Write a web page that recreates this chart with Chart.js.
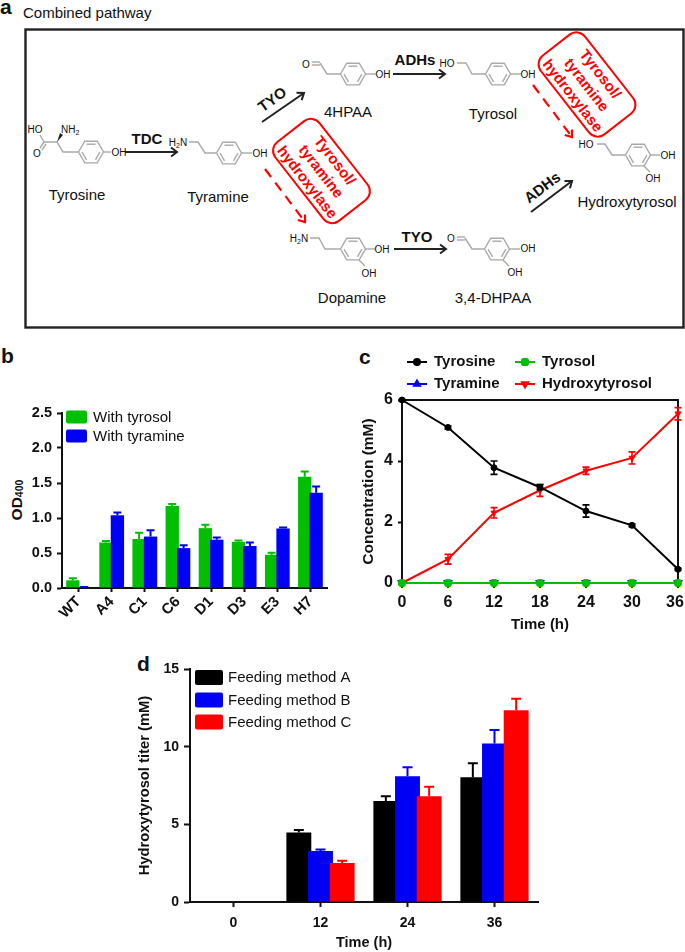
<!DOCTYPE html>
<html>
<head>
<meta charset="utf-8">
<title>Combined pathway</title>
<script src="https://cdn.jsdelivr.net/npm/chart.js@4/dist/chart.umd.js"></script>
<style>
html,body{margin:0;padding:0;background:#fff;overflow:hidden;width:685px;height:952px}
canvas{position:absolute;display:block}
svg{position:absolute;left:0;top:0}
text{font-family:"Liberation Sans",Arial,sans-serif;fill:#111}
</style>
</head>
<body>
<svg id="art" width="685" height="952" viewBox="0 0 685 952"></svg>
<canvas id="chartB" width="340" height="250" style="left:0;top:395px;width:340px;height:250px"></canvas>
<canvas id="chartC" width="345" height="290" style="left:345px;top:345px;width:345px;height:290px"></canvas>
<canvas id="chartD" width="430" height="305" style="left:120px;top:650px;width:430px;height:305px"></canvas>
<script>
/* ---------- panel b ---------- */
const strains = ['WT','A4','C1','C6','D1','D3','E3','H7'];
const odTyrosol = [0.11,0.65,0.70,1.17,0.855,0.66,0.475,1.59];
const odTyrosolErr = [0.03,0.02,0.09,0.03,0.05,0.02,0.03,0.075];
const odTyramine = [0.01,1.04,0.735,0.57,0.69,0.60,0.85,1.36];
const odTyramineErr = [0.005,0.04,0.09,0.04,0.03,0.05,0.015,0.09];
const odTicks = [0,0.5,1,1.5,2,2.5];

/* ---------- panel c ---------- */
const hours = [0,6,12,18,24,30,36];
const tyrosine = [6,5.1,3.78,3.14,2.36,1.89,0.45];
const tyrosineErr = [0.02,0.05,0.22,0.08,0.2,0.04,0.03];
const tyramine = [0,0,0,0,0,0,0];
const tyrosol = [0,0,0,0,0,0,0];
const hydroxytyrosol = [0,0.78,2.3,3.04,3.68,4.1,5.55];
const hydroxytyrosolErr = [0.01,0.16,0.17,0.2,0.12,0.2,0.2];

/* ---------- panel d ---------- */
const feedTimes = ['0','12','24','36'];
const feedA = [0,4.48,6.5,8.03];
const feedAErr = [0,0.15,0.3,0.9];
const feedB = [0,3.28,8.09,10.2];
const feedBErr = [0,0.1,0.58,0.88];
const feedC = [0,2.51,6.8,12.34];
const feedCErr = [0,0.15,0.62,0.75];

const GREEN = '#00bf00', BLUE = '#0000f5', RED = '#ff0000', BLACK = '#000000';
const FONT = '"Liberation Sans", Arial, sans-serif';

/* Error bars read from the dataset and placed with the chart's own scale */
function drawErrors(chart, meta) {
  const ds = chart.data.datasets[meta.index];
  if (!ds.errors) return;
  const y = chart.scales.y, ctx = chart.ctx;
  ctx.save();
  ctx.strokeStyle = ds.errColor || ds.backgroundColor;
  ctx.lineWidth = ds.errWidth || 2;
  meta.data.forEach((el, i) => {
    const e = ds.errors[i];
    if (!e) return;
    const v = ds.data[i], x = el.x, cap = ds.capHalf || 4;
    const hi = y.getPixelForValue(v + e), lo = ds.bothWays ? y.getPixelForValue(v - e) : y.getPixelForValue(v);
    ctx.beginPath();
    ctx.moveTo(x, lo); ctx.lineTo(x, hi);
    ctx.moveTo(x - cap, hi); ctx.lineTo(x + cap, hi);
    if (ds.bothWays) { ctx.moveTo(x - cap, lo); ctx.lineTo(x + cap, lo); }
    ctx.stroke();
  });
  ctx.restore();
}
const errorBars = {
  id: 'errorBars',
  afterDatasetDraw(chart, args) { drawErrors(chart, args.meta); },
  /* panels b and d overlap their bars, later series above earlier ones */
  beforeDatasetsDraw(chart, _a, o) {
    if (!o.leftFirst) return;
    chart.getSortedVisibleDatasetMetas().forEach(meta => {
      meta.controller.draw();
      drawErrors(chart, meta);
    });
    return false;
  }
};

/* In-plot legend for the bar panels: swatches and labels from the datasets */
const swatchLegend = {
  id: 'swatchLegend',
  afterDraw(chart, _a, o) {
    if (!o.rows) return;
    const ctx = chart.ctx;
    ctx.save();
    chart.data.datasets.forEach((ds, i) => {
      const y = o.rows[i];
      ctx.fillStyle = ds.backgroundColor;
      ctx.beginPath();
      ctx.roundRect(o.x, y - o.h / 2, o.w, o.h, 2);
      ctx.fill();
      ctx.fillStyle = '#111';
      ctx.font = o.font;
      ctx.textBaseline = 'middle';
      ctx.textAlign = 'left';
      ctx.fillText(ds.label, o.x + o.w + o.gap, y + 0.5);
    });
    ctx.restore();
  }
};

/* Line and marker legend for panel c */
const lineLegend = {
  id: 'lineLegend',
  afterDraw(chart, _a, o) {
    if (!o.items) return;
    const ctx = chart.ctx;
    ctx.save();
    chart.data.datasets.forEach((ds, i) => {
      const p = o.items[i];
      ctx.strokeStyle = ds.borderColor; ctx.lineWidth = 2;
      ctx.beginPath(); ctx.moveTo(p.x, p.y); ctx.lineTo(p.x + 20, p.y); ctx.stroke();
      ctx.fillStyle = ds.borderColor;
      Chart.helpers.drawPoint(ctx, {pointStyle: ds.pointStyle, radius: Math.min(ds.pointRadius, 3.5), rotation: p.rot || 0, borderWidth: 1}, p.x + 10, p.y);
      ctx.fillStyle = '#111'; ctx.font = o.font; ctx.textBaseline = 'middle'; ctx.textAlign = 'left';
      ctx.fillText(ds.label, p.x + 27, p.y);
    });
    ctx.restore();
  }
};

const boxFrame = {
  id: 'boxFrame',
  beforeDraw(chart, _a, o) {
    /* the last time label sits slightly inside the frame, as in the reference */
    if (o.on && !chart.$shifted) {
      const items = chart.scales.x.getLabelItems();
      items[items.length - 1].options.translation[0] -= 3;
      chart.$shifted = true;
    }
  },
  beforeDatasetsDraw(chart, _a, o) {
    if (!o.on) return;
    const a = chart.chartArea, ctx = chart.ctx;
    ctx.save(); ctx.strokeStyle = '#111'; ctx.lineWidth = 2;
    ctx.strokeRect(a.left, a.top, a.right - a.left, a.bottom - a.top);
    ctx.restore();
  }
};

Chart.register(boxFrame, errorBars, swatchLegend, lineLegend);
Chart.defaults.font.family = FONT;
Chart.defaults.color = '#111';
Chart.defaults.animation = false;
Chart.defaults.responsive = false;

const tickGrid = (len) => ({display:true, drawOnChartArea:false, drawTicks:true, tickLength:len, tickWidth:2, tickColor:'#111', offset:false});
const axisBorder = {display:true, color:'#111', width:2};
const fixW = (w) => (s) => { s.width = w; s.paddingTop = 0; s.paddingBottom = 0; };
const fixH = (h) => (s) => { s.height = h; s.paddingLeft = 0; s.paddingRight = 0; };

/* panel b */
new Chart(document.getElementById('chartB'), {
  type: 'bar',
  data: {
    labels: strains,
    datasets: [
      {label:'With tyrosol', data:odTyrosol, errors:odTyrosolErr, backgroundColor:GREEN, capHalf:4},
      {label:'With tyramine', data:odTyramine, errors:odTyramineErr, backgroundColor:BLUE, capHalf:4}
    ]
  },
  options: {
    layout:{padding:{left:0,right:13,top:18,bottom:0}},
    datasets:{bar:{categoryPercentage:0.69, barPercentage:1.167}},
    plugins:{
      legend:{display:false}, tooltip:{enabled:false},
      errorBars:{leftFirst:true},
      swatchLegend:{x:66,w:21,h:13,gap:6,rows:[22,41],font:'15px '+FONT}
    },
    scales:{
      x:{afterFit:fixH(57), grid:tickGrid(4), border:axisBorder,
         ticks:{minRotation:45,maxRotation:45,autoSkip:false,padding:1,color:'#111',font:{size:15,weight:'bold'}}},
      y:{min:0,max:2.5,afterFit:fixW(62), grid:tickGrid(5), border:axisBorder,
         afterBuildTicks:(s)=>{s.ticks=odTicks.map(v=>({value:v}));},
         ticks:{padding:5,color:'#111',font:{size:14.5,weight:'bold'},callback:(v)=>v.toFixed(1)}}
    }
  }
});

/* panel c */
new Chart(document.getElementById('chartC'), {
  type: 'line',
  data: {
    labels: hours,
    datasets: [
      {label:'Tyrosine', data:tyrosine, borderColor:BLACK, backgroundColor:BLACK, pointStyle:'circle', pointRadius:3, errors:tyrosineErr},
      {label:'Tyrosol', data:tyrosol, borderColor:GREEN, backgroundColor:GREEN, pointStyle:'rectRounded', pointRadius:4},
      {label:'Hydroxytyrosol', data:hydroxytyrosol, borderColor:RED, backgroundColor:RED, pointStyle:'triangle', pointRotation:180, pointRadius:3.5, errors:hydroxytyrosolErr},
      {label:'Tyramine', data:tyramine, borderColor:BLUE, backgroundColor:BLUE, pointStyle:'triangle', pointRotation:180, pointRadius:5}
    ].map(d=>Object.assign(d,{bothWays:true,capHalf:3.5,errWidth:1.6,borderWidth:2,tension:0,clip:false,pointBorderWidth:1}))
  },
  options: {
    layout:{padding:{left:0,right:12,top:55,bottom:0}},
    plugins:{
      legend:{display:false}, tooltip:{enabled:false},
      boxFrame:{on:true},
      lineLegend:{font:'bold 15px '+FONT, items:[{x:62,y:17},{x:170,y:17},{x:170,y:39,rot:180},{x:62,y:39}]}
    },
    scales:{
      x:{type:'linear',min:0,max:36,afterFit:fixH(52), grid:tickGrid(4), border:axisBorder,
         afterBuildTicks:(s)=>{s.ticks=hours.map(v=>({value:v}));},
         ticks:{padding:6,color:'#111',font:{size:16,weight:'bold'},maxRotation:0,autoSkip:false},
         title:{display:true,text:'Time (h)',color:'#111',font:{size:15,weight:'bold'},padding:{top:0,bottom:1}}},
      y:{min:0,max:6,afterFit:fixW(57), grid:tickGrid(4), border:axisBorder,
         ticks:{stepSize:2,padding:5,color:'#111',font:{size:16,weight:'bold'}},
         title:{display:true,text:'Concentration (mM)',color:'#111',font:{size:15.5,weight:'bold'},padding:{top:14,bottom:0}}}
    }
  }
});

/* panel d */
new Chart(document.getElementById('chartD'), {
  type: 'bar',
  data: {
    labels: feedTimes,
    datasets: [
      {label:'Feeding method A', data:feedA, errors:feedAErr, backgroundColor:BLACK, capHalf:5},
      {label:'Feeding method B', data:feedB, errors:feedBErr, backgroundColor:BLUE, capHalf:5},
      {label:'Feeding method C', data:feedC, errors:feedCErr, backgroundColor:RED, capHalf:5}
    ]
  },
  options: {
    layout:{padding:{left:0,right:12,top:19,bottom:0}},
    datasets:{bar:{categoryPercentage:0.747, barPercentage:1.15}},
    plugins:{
      legend:{display:false}, tooltip:{enabled:false},
      errorBars:{leftFirst:true},
      swatchLegend:{x:75,w:28,h:15,gap:5,rows:[27.5,50,72],font:'15px '+FONT}
    },
    scales:{
      x:{afterFit:fixH(53), grid:tickGrid(5), border:axisBorder,
         ticks:{padding:8,color:'#111',font:{size:14,weight:'bold'},maxRotation:0},
         title:{display:true,text:'Time (h)',color:'#111',font:{size:14.5,weight:'bold'},padding:{top:0,bottom:3}}},
      y:{min:0,max:15,afterFit:fixW(70), grid:tickGrid(6), border:axisBorder,
         ticks:{stepSize:5,padding:5,color:'#111',font:{size:14,weight:'bold'}},
         title:{display:true,text:'Hydroxytyrosol titer (mM)',color:'#111',font:{size:14.75,weight:'bold'},padding:{top:16,bottom:0}}}
    }
  }
});

/* ---------- panel a: pathway diagram ---------- */
const GRAY = '#a9a9a9';
let s = '';
const line = (pts, col, w, extra='') => { s += `<polyline points="${pts.map(p=>p.join(',')).join(' ')}" fill="none" stroke="${col}" stroke-width="${w}" ${extra}/>`; };
const txt = (x,y,t,size,o={}) => {
  const tr = o.rot ? ` transform="rotate(${o.rot} ${x} ${y})"` : '';
  s += `<text x="${x}" y="${y}" font-size="${size}" text-anchor="${o.anchor||'middle'}" dominant-baseline="central" font-weight="${o.bold?'bold':'normal'}"${o.col?` style="fill:${o.col}"`:''}${tr}>${t}</text>`;
};
const sub = (t) => `<tspan font-size="7" dy="3">${t}</tspan><tspan dy="-3">&#8203;</tspan>`;
function ring(cx,cy){
  const r=12.5, h=r*0.866, v=[[cx-r,cy],[cx-r/2,cy-h],[cx+r/2,cy-h],[cx+r,cy],[cx+r/2,cy+h],[cx-r/2,cy+h],[cx-r,cy]];
  line(v,GRAY,1.4);
  const k=0.72;
  [[1,2],[3,4],[5,0]].forEach(([a,b])=>{
    const ax=cx+(v[a][0]-cx)*k, ay=cy+(v[a][1]-cy)*k, bx=cx+(v[b][0]-cx)*k, by=cy+(v[b][1]-cy)*k;
    line([[ax,ay],[bx,by]],GRAY,1.4);
  });
}
function arrow(x1,y1,x2,y2,col,w,dash){
  const a=Math.atan2(y2-y1,x2-x1), L=7.5, t=0.65;
  line([[x1,y1],[x2,y2]],col,w,dash?`stroke-dasharray="${dash}"`:'');
  line([[x2-L*Math.cos(a-t),y2-L*Math.sin(a-t)],[x2,y2],[x2-L*Math.cos(a+t),y2-L*Math.sin(a+t)]],col,w);
}
function redBox(cx,cy){
  s += `<g transform="translate(${cx} ${cy}) rotate(52)"><rect x="-50" y="-28" width="100" height="56" rx="11" fill="#fff" stroke="${RED}" stroke-width="2"/>`;
  ['Tyrosol/','tyramine','hydroxylase'].forEach((t,i)=>{
    s += `<text x="0" y="${(i-1)*17.5}" font-size="15" font-weight="bold" text-anchor="middle" dominant-baseline="central" style="fill:${RED}">${t}</text>`;
  });
  s += '</g>';
}
/* frame */
s += `<rect x="25.5" y="29.5" width="658" height="298" fill="#fff" stroke="#222" stroke-width="2.4"/>`;
txt(0,6,'a',21,{anchor:'start',bold:true});
txt(23,12,'Combined pathway',15,{anchor:'start'});
txt(1,355,'b',21,{anchor:'start',bold:true});
txt(359,356,'c',21,{anchor:'start',bold:true});
txt(137,663,'d',21,{anchor:'start',bold:true});
/* OD title with its subscript */
s += `<text transform="translate(16 500) rotate(-90)" font-size="15.5" font-weight="bold" text-anchor="middle" dominant-baseline="central">OD<tspan font-size="10.5" dy="3">400</tspan></text>`;

/* tyrosine */
ring(91,152);
line([[78.5,152],[63,152],[57,142],[44,142]],GRAY,1.4);
line([[44,142],[40,135]],GRAY,1.4);
line([[44,142],[40,148]],GRAY,1.4); line([[46,144],[42,150]],GRAY,1.4);
s += `<polygon points="57,142 60,133 63,135" fill="#222"/>`;
line([[103.5,152],[111,152]],GRAY,1.4);
txt(35,129,'HO',10); txt(37,153,'O',10);
txt(61,129,'NH'+sub('2'),10,{anchor:'start'});
txt(119,152,'OH',10);
arrow(125,152,177,152,'#222',2);
txt(147,138,'TDC',15,{bold:true});
txt(77,194,'Tyrosine',15);

/* tyramine */
txt(178,142,'H'+sub('2')+'N',10);
line([[189,142],[198,142],[205,153],[216.5,153]],GRAY,1.4);
ring(229,153);
line([[241.5,153],[252,153]],GRAY,1.4);
txt(260,153,'OH',10);
txt(218,196,'Tyramine',15);

/* TYO up */
arrow(262,122,304,93,'#222',2);
txt(272,99,'TYO',15,{bold:true,rot:-36});

/* 4HPAA */
txt(306,64,'O',10);
line([[312,62],[320,62]],GRAY,1.4); line([[312,65],[320,65]],GRAY,1.4);
line([[320,63],[327,74],[340.5,74]],GRAY,1.4);
ring(353,74);
line([[365.5,74],[376,74]],GRAY,1.4);
txt(383,74,'OH',10);
txt(348,111,'4HPAA',15);

/* ADHs */
arrow(393,74,445,74,'#222',2);
txt(415,59,'ADHs',15,{bold:true});

/* tyrosol */
txt(447,63,'HO',10);
line([[457,63],[466,63],[472,74],[485.5,74]],GRAY,1.4);
ring(498,74);
line([[510.5,74],[521,74]],GRAY,1.4);
txt(528,74,'OH',10);
txt(493,113,'Tyrosol',15);

/* hydroxylase boxes and dashed arrows */
redBox(587,84.5);
arrow(533,85,572,137,RED,2.2,'10 7');
redBox(321.5,171);
arrow(265,169,305,222,RED,2.2,'10 7');

/* hydroxytyrosol */
txt(586,144,'HO',10);
line([[597,144],[605,144],[612,155],[625.5,155]],GRAY,1.4);
ring(638,155);
line([[650.5,155],[660,155]],GRAY,1.4);
line([[644,166],[650,172]],GRAY,1.4);
txt(668,155,'OH',10); txt(653,178,'OH',10);
txt(627,201,'Hydroxytyrosol',15);

/* ADHs up */
arrow(531,212,572,181,'#222',2);
txt(542,187,'ADHs',15,{bold:true,rot:-37});

/* dopamine */
txt(299,238,'H'+sub('2')+'N',10);
line([[310,238],[319,238],[325,249],[340.5,249]],GRAY,1.4);
ring(353,249);
line([[365.5,249],[375,249]],GRAY,1.4);
line([[359,260],[365,266]],GRAY,1.4);
txt(382,249,'OH',10); txt(369,273,'OH',10);
txt(352,297,'Dopamine',15);

/* TYO */
arrow(394,249,446,249,'#222',2);
txt(417,236,'TYO',15,{bold:true});

/* 3,4-DHPAA */
txt(451,238,'O',10);
line([[457,237],[465,237]],GRAY,1.4); line([[457,240],[465,240]],GRAY,1.4);
line([[465,238],[472,249],[484.5,249]],GRAY,1.4);
ring(497,249);
line([[509.5,249],[520,249]],GRAY,1.4);
line([[503,260],[509,266]],GRAY,1.4);
txt(528,248,'OH',10); txt(515,272,'OH',10);
txt(493,297,'3,4-DHPAA',15);

document.getElementById('art').innerHTML = s;
</script>
</body>
</html>
